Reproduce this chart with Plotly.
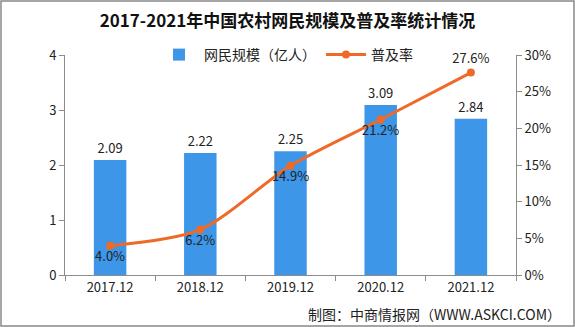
import plotly.graph_objects as go

# Rural internet users in China, 2017-2021
periods = ["2017.12", "2018.12", "2019.12", "2020.12", "2021.12"]
users_100m = [2.09, 2.22, 2.25, 3.09, 2.84]          # 网民规模（亿人）
penetration = [0.040, 0.062, 0.149, 0.212, 0.276]   # 普及率
pen_labels = ["4.0%", "6.2%", "14.9%", "21.2%", "27.6%"]
pen_label_pos = ["bottom center", "bottom center", "bottom center", "bottom center", "top center"]

FONT = "Noto Sans CJK SC"
BAR = "#3D96E8"
LINE = "#EF6A27"
AXIS = "#8C8C8C"

fig = go.Figure()

fig.add_trace(go.Bar(
    x=periods, y=users_100m, name="网民规模（亿人）",
    marker=dict(color=BAR, line=dict(width=0)),
    width=0.36,
    text=[f"{v:.2f}" for v in users_100m], textposition="outside",
    textfont=dict(family=FONT, size=13, color="#222"),
    cliponaxis=False,
))

fig.add_trace(go.Scatter(
    x=periods, y=penetration, name="普及率", yaxis="y2",
    mode="lines+markers+text",
    line=dict(color=LINE, width=3, shape="spline", smoothing=0.8),
    marker=dict(color=LINE, size=8),
    text=pen_labels, textposition=pen_label_pos,
    textfont=dict(family=FONT, size=13, color="#222"),
    cliponaxis=False,
))

fig.update_layout(
    width=575, height=327,
    margin=dict(l=65, r=59, t=55, b=52),
    paper_bgcolor="white", plot_bgcolor="white",
    font=dict(family=FONT, size=13, color="#222"),
    title=dict(text="<b>2017-2021年中国农村网民规模及普及率统计情况</b>",
               x=0.5, xanchor="center", y=0.935, yanchor="middle",
               font=dict(family=FONT, size=17, color="#111")),
    showlegend=True,
    legend=dict(orientation="h", x=0.49, xanchor="center", y=1.0, yanchor="middle",
                font=dict(family=FONT, size=14, color="#222"),
                bgcolor="rgba(0,0,0,0)", itemwidth=40, tracegroupgap=0),
    xaxis=dict(type="category", showline=True, linecolor=AXIS, linewidth=1,
               ticks="outside", tickson="boundaries", ticklen=5, tickcolor=AXIS,
               showgrid=False, tickfont=dict(family=FONT, size=13, color="#222")),
    yaxis=dict(range=[0, 4], dtick=1, showline=True, linecolor=AXIS, linewidth=1,
               ticks="outside", ticklen=5, tickcolor=AXIS, showgrid=False, zeroline=False,
               tickfont=dict(family=FONT, size=13, color="#222")),
    yaxis2=dict(range=[0, 0.30], dtick=0.05, tickformat=".0%", overlaying="y", side="right",
                showline=True, linecolor=AXIS, linewidth=1, ticks="outside", ticklen=5,
                tickcolor=AXIS, showgrid=False, zeroline=False,
                tickfont=dict(family=FONT, size=13, color="#222")),
    annotations=[
        dict(text="制图：中商情报网（WWW.ASKCI.COM）", x=1.105, xanchor="right",
             y=-0.175, yanchor="middle", xref="paper", yref="paper", showarrow=False,
             font=dict(family=FONT, size=14, color="#222")),
    ],
)

# outer frame around the whole figure
pw, ph = 575 - 65 - 59, 327 - 55 - 52
fig.add_shape(type="rect", xref="paper", yref="paper",
              x0=-64 / pw, x1=1 + 58 / pw, y0=-51 / ph, y1=1 + 54 / ph,
              line=dict(color="#888", width=1.5), layer="above")

fig.write_html("out.html")
